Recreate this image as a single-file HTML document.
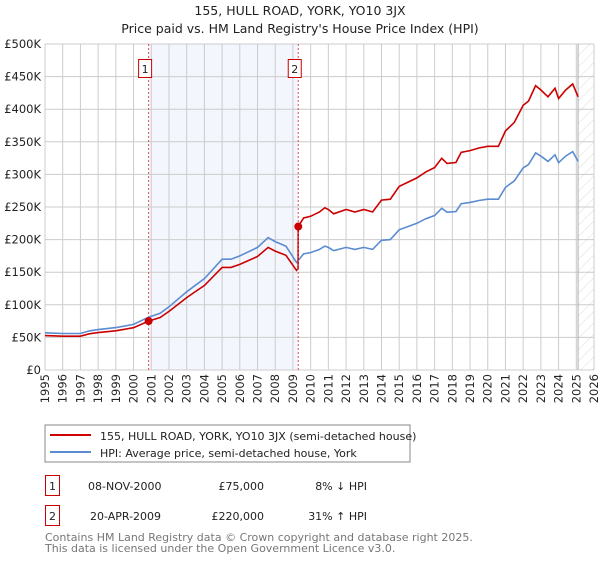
<!DOCTYPE html>
<html><head><meta charset="utf-8"><style>
body{margin:0;background:#fff;width:600px;height:560px;overflow:hidden;font-family:"DejaVu Sans","Liberation Sans",sans-serif;}
svg text{font-family:"DejaVu Sans","Liberation Sans",sans-serif;}
</style></head><body>
<svg id="c" width="600" height="560" xmlns="http://www.w3.org/2000/svg">
<defs><pattern id="hatch" width="8" height="8" patternUnits="userSpaceOnUse" patternTransform="rotate(45)"><line x1="0" y1="0" x2="0" y2="8" stroke="#d4d4d4" stroke-width="0.8"/></pattern></defs>
<text x="300" y="15" text-anchor="middle" font-size="12.5" fill="#222">155, HULL ROAD, YORK, YO10 3JX</text>
<text x="300" y="33" text-anchor="middle" font-size="12.5" fill="#222">Price paid vs. HM Land Registry's House Price Index (HPI)</text>
<g id="grid"></g><g id="marks"></g>
<rect x="45" y="425" width="365" height="37" fill="#fff" stroke="#888"/>
<line x1="50" y1="435" x2="91" y2="435" stroke="#cc0000" stroke-width="2"/>
<text x="100" y="440" font-size="11" fill="#222">155, HULL ROAD, YORK, YO10 3JX (semi-detached house)</text>
<line x1="50" y1="452" x2="91" y2="452" stroke="#5b8bd0" stroke-width="2"/>
<text x="100" y="457" font-size="11" fill="#222">HPI: Average price, semi-detached house, York</text>
<rect x="45.5" y="475.5" width="14" height="20" fill="none" stroke="#cc0000"/>
<text x="52.5" y="490" text-anchor="middle" font-size="11" fill="#222">1</text>
<text x="88" y="490" font-size="11" fill="#222">08-NOV-2000</text>
<text x="264" y="490" text-anchor="end" font-size="11" fill="#222">£75,000</text>
<text x="367" y="490" text-anchor="end" font-size="11" fill="#222">8% ↓ HPI</text>
<rect x="45.5" y="505.5" width="14" height="20" fill="none" stroke="#cc0000"/>
<text x="52.5" y="520" text-anchor="middle" font-size="11" fill="#222">2</text>
<text x="90" y="520" font-size="11" fill="#222">20-APR-2009</text>
<text x="264" y="520" text-anchor="end" font-size="11" fill="#222">£220,000</text>
<text x="367" y="520" text-anchor="end" font-size="11" fill="#222">31% ↑ HPI</text>
<text x="45" y="541" font-size="11" fill="#777">Contains HM Land Registry data © Crown copyright and database right 2025.</text>
<text x="45" y="552" font-size="11" fill="#777">This data is licensed under the Open Government Licence v3.0.</text>
</svg>
<script>
const hpiYears=[1995,1996,1997,1997.5,1998,1999,2000,2000.85,2001.5,2002,2003,2003.5,2004,2005,2005.5,2006,2007,2007.6,2008,2008.6,2009.2,2009.3,2009.6,2010,2010.5,2010.8,2011,2011.3,2012,2012.5,2013,2013.5,2014,2014.5,2015,2016,2016.5,2017,2017.4,2017.7,2018.2,2018.5,2019,2019.5,2020,2020.6,2021,2021.5,2022,2022.3,2022.7,2023,2023.4,2023.8,2024,2024.4,2024.8,2025.1];
const hpiValues=[57,56,56,60,62,65,70,81,87,97,120,130,140,170,170,175,188,203,197,190,165,168,178,180,185,190,188,183,188,185,188,185,199,200,215,225,232,237,248,242,243,255,257,260,262,262,280,290,310,315,333,328,320,330,318,328,335,320];
const saleYears=[2000.85,2009.3];
const salePrices=[75,220];
const saleLabels=["1","2"];
const yTicks=[0,50,100,150,200,250,300,350,400,450,500];
const yTickLabels=["£0","£50K","£100K","£150K","£200K","£250K","£300K","£350K","£400K","£450K","£500K"];
const xTicks=[1995,1996,1997,1998,1999,2000,2001,2002,2003,2004,2005,2006,2007,2008,2009,2010,2011,2012,2013,2014,2015,2016,2017,2018,2019,2020,2021,2022,2023,2024,2025,2026];
const X=y=>45+(y-1995)*549/31, Y=v=>370-v*0.652;
const NS="http://www.w3.org/2000/svg";
function mk(tag,attrs,parent){const e=document.createElementNS(NS,tag);for(const k in attrs)e.setAttribute(k,attrs[k]);parent.appendChild(e);return e;}
const G=document.getElementById('grid'),M=document.getElementById('marks');
let r=mk('rect',{x:X(saleYears[0]),y:44,width:X(saleYears[1])-X(saleYears[0]),height:326,fill:'#eef2fc',opacity:0.7},G);


r=mk('rect',{x:X(2025.1),y:44,width:594-X(2025.1),height:326,fill:'url(#hatch)'},G);


yTicks.forEach((v,i)=>{let l=mk('line',{x1:45,x2:594,y1:Y(v),y2:Y(v),stroke:'#ccc'},G);


let t=mk('text',{x:41,y:Y(v)+4,'text-anchor':'end','font-size':11.5,fill:'#222'},G);t.textContent=yTickLabels[i];

});
xTicks.forEach(v=>{let l=mk('line',{x1:X(v),x2:X(v),y1:44,y2:370,stroke:'#ccc'},G);


let t=mk('text',{x:0,y:0,'text-anchor':'end','font-size':11.5,fill:'#222',transform:`translate(${X(v)+4},374) rotate(-90)`},G);t.textContent=v;

});
let vl=mk('line',{x1:X(2025.1),x2:X(2025.1),y1:44,y2:370,stroke:'#aaa','stroke-width':1},G);


function hpiAt(y){for(let i=1;i<hpiYears.length;i++){if(y<=hpiYears[i]){const t=(y-hpiYears[i-1])/(hpiYears[i]-hpiYears[i-1]);return hpiValues[i-1]+t*(hpiValues[i]-hpiValues[i-1]);}}return hpiValues[hpiValues.length-1];}
const f1=salePrices[0]/hpiAt(saleYears[0]),f2=salePrices[1]/hpiAt(saleYears[1]);
let hp=hpiYears.map((y,i)=>X(y).toFixed(1)+','+Y(hpiValues[i]).toFixed(1)).join(' ');
let pl=mk('polyline',{points:hp,fill:'none',stroke:'#5b8bd0','stroke-width':1.6},M);


let pp=[];hpiYears.forEach((y,i)=>{if(y<saleYears[1])pp.push([y,hpiValues[i]*f1]);});
pp.push([saleYears[1]-0.01,hpiAt(saleYears[1])*f1]);
hpiYears.forEach((y,i)=>{if(y>=saleYears[1])pp.push([y,hpiValues[i]*f2]);});
pl=mk('polyline',{points:pp.map(p=>X(p[0]).toFixed(1)+','+Y(p[1]).toFixed(1)).join(' '),fill:'none',stroke:'#cc0000','stroke-width':1.6},M);


saleYears.forEach((y,i)=>{let l=mk('line',{x1:X(y),x2:X(y),y1:44,y2:370,stroke:'#e05050','stroke-dasharray':'2,2'},M);


let c=mk('circle',{cx:X(y),cy:Y(salePrices[i]),r:4,fill:'#cc0000'},M);


let b=mk('rect',{x:X(y)-10,y:59.5,width:13,height:18,fill:'#fff',stroke:'#cc0000'},M);


let t=mk('text',{x:X(y)-3.5,y:73,'text-anchor':'middle','font-size':11,fill:'#222'},M);t.textContent=saleLabels[i];

});
</script>
</body></html>
